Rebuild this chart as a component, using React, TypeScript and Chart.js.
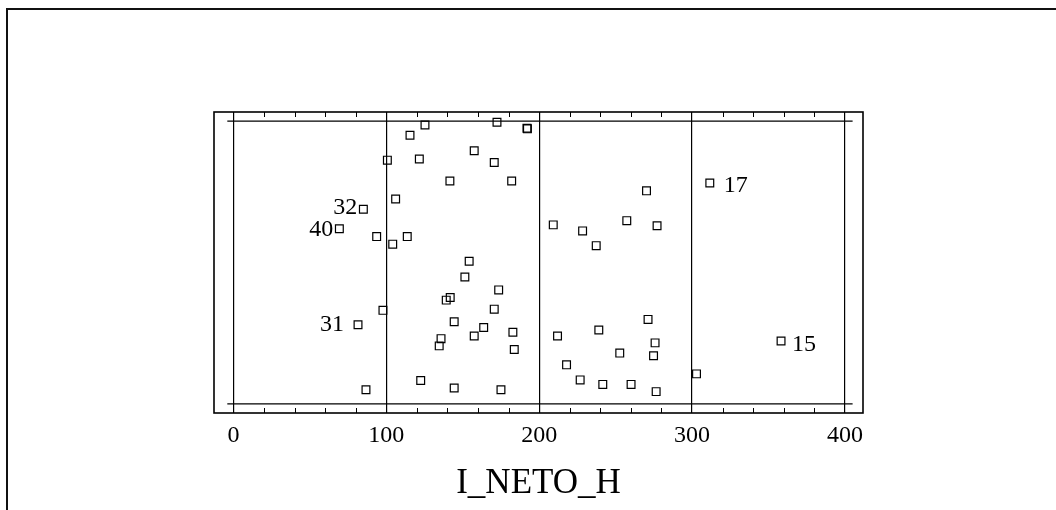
import React, { useEffect, useRef } from 'react';
import { Chart, registerables } from 'chart.js';

Chart.register(...registerables);

// I_NETO_H values of each observation
const xValues = [
  125.3, 172.4, 192.0, 192.3, 115.5, 100.7, 121.6, 157.5, 170.6, 141.6,
  182.0, 106.1, 85.0, 69.3, 93.7, 104.2, 113.7, 154.2, 151.4, 173.5,
  141.8, 139.2, 97.8, 170.6, 81.5, 144.4, 163.7, 182.8, 157.5, 135.8,
  134.6, 183.7, 122.5, 86.7, 144.4, 175.0, 311.6, 270.2, 209.2, 228.4,
  257.3, 277.1, 237.3, 271.2, 239.0, 212.0, 275.8, 274.8, 252.7, 217.9,
  358.2, 302.9, 226.8, 241.6, 260.1, 276.5,
];
// vertical jitter position (0..100) of each observation
const yValues = [
  95.7, 96.6, 94.6, 94.4, 92.3, 84.0, 84.4, 87.1, 83.2, 77.1,
  77.1, 71.1, 67.7, 61.2, 58.6, 56.1, 58.6, 50.4, 45.2, 40.9,
  38.4, 37.5, 34.1, 34.5, 29.3, 30.3, 28.4, 26.8, 25.6, 24.7,
  22.3, 21.1, 10.8, 7.7, 8.3, 7.7, 76.4, 73.8, 62.5, 60.5,
  63.9, 62.2, 55.6, 31.1, 27.6, 25.6, 23.3, 19.0, 19.9, 16.0,
  23.9, 13.0, 11.0, 9.5, 9.5, 7.1,
];
// labelled (outlying) observations
const labelIndex = [12, 13, 24, 36, 50];
const labelText = ['32', '40', '31', '17', '15'];
const labelDx = [-6, -6, -14, 14, 11];
const labelDy = [-2, 1, 0, 3, 4];

const xTicks = [0, 100, 200, 300, 400];
const minorTicks = [20, 40, 60, 80, 120, 140, 160, 180, 220, 240, 260, 280, 320, 340, 360, 380];
const frameX = [-4, 405];
const frameYLow = 3;
const frameYHigh = 97;
const xTitle = 'I_NETO_H';

const FONT = "'Liberation Serif', 'Times New Roman', serif";

const framePlugin = {
  id: 'framePlugin',
  beforeDatasetsDraw(chart: any) {
    const { ctx, chartArea: a, scales } = chart;
    const x = scales.x;
    ctx.save();
    ctx.strokeStyle = '#000';
    ctx.lineWidth = 1;
    minorTicks.forEach((v) => {
      const px = Math.round(x.getPixelForValue(v)) + 0.5;
      ctx.beginPath();
      ctx.moveTo(px, a.top);
      ctx.lineTo(px, a.top + 5);
      ctx.moveTo(px, a.bottom);
      ctx.lineTo(px, a.bottom - 5);
      ctx.stroke();
    });
    ctx.lineWidth = 1.6;
    ctx.strokeRect(a.left, a.top, a.right - a.left, a.bottom - a.top);
    ctx.restore();
  },
  afterDatasetsDraw(chart: any) {
    const { ctx, scales } = chart;
    const x = scales.x;
    const y = scales.y;
    ctx.save();
    ctx.fillStyle = '#000';
    ctx.font = `24px ${FONT}`;
    ctx.textBaseline = 'middle';
    labelIndex.forEach((idx, i) => {
      const px = x.getPixelForValue(xValues[idx]);
      const py = y.getPixelForValue(yValues[idx]);
      ctx.textAlign = labelDx[i] < 0 ? 'right' : 'left';
      ctx.fillText(labelText[i], px + labelDx[i], py + labelDy[i]);
    });
    ctx.restore();
  },
};

export default function App() {
  const canvasRef = useRef<HTMLCanvasElement | null>(null);

  useEffect(() => {
    const canvas = canvasRef.current;
    if (!canvas) return;
    const points = xValues.map((v, i) => ({ x: v, y: yValues[i] }));
    const chart = new Chart(canvas, {
      type: 'scatter',
      data: {
        datasets: [
          {
            data: points,
            pointStyle: 'rect',
            pointRadius: 5.5,
            pointHoverRadius: 5.5,
            pointBorderWidth: 1.2,
            borderColor: '#000',
            backgroundColor: 'rgba(0,0,0,0)',
          } as any,
          {
            data: frameX.map((v) => ({ x: v, y: frameYHigh })),
            showLine: true,
            pointRadius: 0,
            borderColor: '#000',
            borderWidth: 1.2,
          } as any,
          {
            data: frameX.map((v) => ({ x: v, y: frameYLow })),
            showLine: true,
            pointRadius: 0,
            borderColor: '#000',
            borderWidth: 1.2,
          } as any,
        ],
      },
      options: {
        animation: false,
        responsive: false,
        events: [],
        layout: { padding: { left: 214, right: 193, top: 112, bottom: 0 } },
        plugins: { legend: { display: false }, tooltip: { enabled: false } },
        scales: {
          x: {
            type: 'linear',
            min: -12.7,
            max: 411.8,
            afterBuildTicks: (scale: any) => {
              scale.ticks = xTicks.map((v) => ({ value: v }));
            },
            afterFit: (scale: any) => {
              scale.height = 97;
            },
            grid: { color: '#000', lineWidth: 1.2, drawTicks: false },
            border: { display: false },
            ticks: {
              color: '#000',
              padding: 8,
              maxRotation: 0,
              font: { family: FONT, size: 24 },
            },
            title: {
              display: true,
              text: xTitle,
              color: '#000',
              padding: { top: 0, bottom: 5 },
              font: { family: FONT, size: 35 },
            },
          },
          y: {
            type: 'linear',
            min: 0,
            max: 100,
            display: false,
          },
        },
      } as any,
      plugins: [framePlugin],
    });
    return () => chart.destroy();
  }, []);

  return (
    <div>
      <div
        style={{
          position: 'fixed',
          left: 6,
          top: 8,
          width: 1060,
          height: 510,
          borderTop: '2px solid #111',
          borderLeft: '2px solid #111',
          boxSizing: 'border-box',
        }}
      />
      <canvas
        ref={canvasRef}
        width={1056}
        height={510}
        style={{ position: 'fixed', left: 0, top: 0, width: 1056, height: 510 }}
      />
    </div>
  );
}
